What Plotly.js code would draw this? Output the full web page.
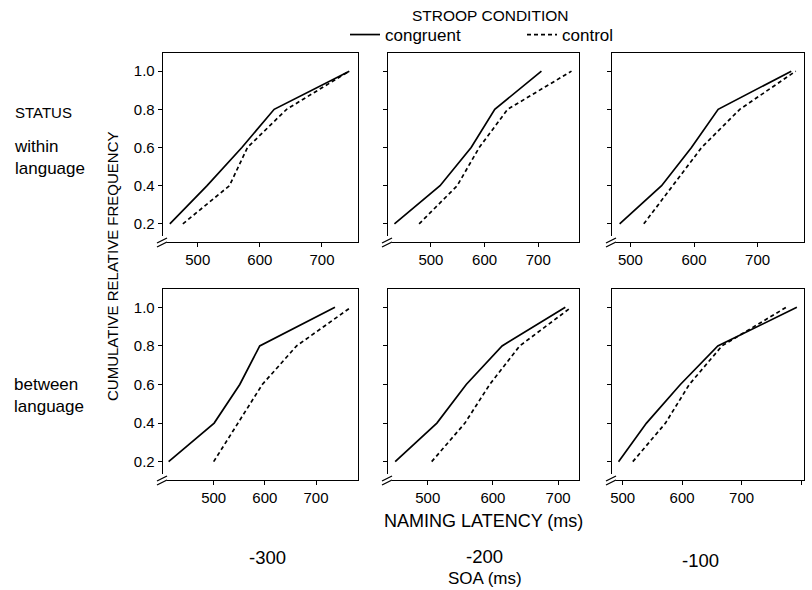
<!DOCTYPE html>
<html><head><meta charset="utf-8">
<script src="https://cdn.plot.ly/plotly-3.0.1.min.js"></script>
<style>html,body{margin:0;padding:0;background:#fff}#chart{width:812px;height:590px}</style>
</head><body><div id="chart"></div>
<script>
// cumulative relative frequency levels (quintiles)
const quantiles = [0.2, 0.4, 0.6, 0.8, 1.0];
const yTickText = ['0.2', '0.4', '0.6', '0.8', '1.0'];
const soaLabels = ['-300', '-200', '-100'];
const statusLabels = ['within<br>language', 'between<br>language'];
const seriesNames = ['congruent', 'control'];

// naming latency (ms) at each quantile
const withinM300Congruent  = [455, 515, 571, 623, 744];
const withinM300Control    = [476, 551, 580, 643, 744];
const withinM200Congruent  = [432, 517, 575, 619, 706];
const withinM200Control    = [478, 549, 590, 643, 762];
const withinM100Congruent  = [483, 549, 596, 638, 753];
const withinM100Control    = [521, 567, 612, 672, 760];
const betweenM300Congruent = [412, 501, 551, 590, 737];
const betweenM300Control   = [500, 548, 595, 662, 768];
const betweenM200Congruent = [450, 514, 559, 614, 711];
const betweenM200Control   = [506, 557, 595, 641, 720];
const betweenM100Congruent = [493, 540, 597, 660, 793];
const betweenM100Control   = [517, 572, 612, 667, 775];

const xTicks = [500, 600, 700, 800];

const panels = [
  {cong: withinM300Congruent,  ctrl: withinM300Control,  xr: [444, 758], col: 0, row: 0},
  {cong: withinM200Congruent,  ctrl: withinM200Control,  xr: [420, 776], col: 1, row: 0},
  {cong: withinM100Congruent,  ctrl: withinM100Control,  xr: [471, 773], col: 2, row: 0},
  {cong: betweenM300Congruent, ctrl: betweenM300Control, xr: [401, 782], col: 0, row: 1},
  {cong: betweenM200Congruent, ctrl: betweenM200Control, xr: [439, 732], col: 1, row: 1},
  {cong: betweenM100Congruent, ctrl: betweenM100Control, xr: [482, 805], col: 2, row: 1}
];

const W = 812, H = 590;
const colPx = [[163, 358], [388, 579], [612, 804]];
const rowPx = [[53, 242], [289, 480]];
const FONT = 'Liberation Sans, Arial, Helvetica, sans-serif';

const traces = [];
const layout = {
  width: W, height: H,
  margin: {l: 0, r: 0, t: 0, b: 0},
  paper_bgcolor: '#fff', plot_bgcolor: '#fff',
  font: {family: FONT, color: '#000', size: 15},
  showlegend: true,
  legend: {
    orientation: 'h', x: 345 / W, xanchor: 'left', y: 1 - 17 / H, yanchor: 'top',
    font: {size: 17, family: FONT, color: '#000'}, bgcolor: 'rgba(0,0,0,0)',
    itemwidth: 30, entrywidth: 132, entrywidthmode: 'pixels', traceorder: 'normal'
  },
  shapes: [], annotations: []
};

panels.forEach((p, i) => {
  const n = i + 1;
  const xa = n === 1 ? 'x' : 'x' + n;
  const ya = n === 1 ? 'y' : 'y' + n;
  traces.push({
    type: 'scatter', mode: 'lines', x: p.cong, y: quantiles, xaxis: xa, yaxis: ya,
    name: seriesNames[0], showlegend: i === 0, legendgroup: 'c',
    line: {color: '#000', width: 1.7}
  });
  traces.push({
    type: 'scatter', mode: 'lines', x: p.ctrl, y: quantiles, xaxis: xa, yaxis: ya,
    name: seriesNames[1], showlegend: i === 0, legendgroup: 'd',
    line: {color: '#000', width: 1.7, dash: '4px,3px'}
  });
  const cx = colPx[p.col], ry = rowPx[p.row];
  layout['xaxis' + (n === 1 ? '' : n)] = {
    domain: [cx[0] / W, cx[1] / W], anchor: ya, range: p.xr, fixedrange: true,
    tickvals: xTicks, ticks: 'outside', ticklen: 4, tickwidth: 1, tickcolor: '#000',
    showline: true, mirror: true, linecolor: '#000', linewidth: 1.3,
    showgrid: false, zeroline: false, tickfont: {size: 15, color: '#000'}
  };
  layout['yaxis' + (n === 1 ? '' : n)] = {
    domain: [1 - ry[1] / H, 1 - ry[0] / H], anchor: xa, range: [0.105, 1.095], fixedrange: true,
    tickvals: quantiles, ticktext: yTickText, showticklabels: p.col === 0,
    ticks: 'outside', ticklen: 4, tickwidth: 1, tickcolor: '#000',
    showline: true, mirror: true, linecolor: '#000', linewidth: 1.3,
    showgrid: false, zeroline: false, tickfont: {size: 15, color: '#000'}
  };
  const xref = xa + ' domain', yref = ya + ' domain';
  // axis break at lower-left corner
  layout.shapes.push({
    type: 'rect', xref, yref, layer: 'above', xsizemode: 'pixel', ysizemode: 'pixel',
    xanchor: 0, yanchor: 0, x0: -3, x1: 4, y0: -3, y1: 6,
    fillcolor: '#fff', line: {width: 0}
  });
  [[-6, -5, 4, 0], [-6, -1, 4, 4]].forEach(s => {
    layout.shapes.push({
      type: 'line', xref, yref, layer: 'above', xsizemode: 'pixel', ysizemode: 'pixel',
      xanchor: 0, yanchor: 0, x0: s[0], y0: s[1], x1: s[2], y1: s[3],
      line: {color: '#000', width: 1.3}
    });
  });
});

function ann(text, xpx, ypx, size, opts) {
  layout.annotations.push(Object.assign({
    text, xref: 'paper', yref: 'paper', x: xpx / W, y: 1 - ypx / H,
    showarrow: false, xanchor: 'center', yanchor: 'middle',
    font: {size: size, family: FONT, color: '#000'}
  }, opts || {}));
}

ann('STROOP CONDITION', 490, 15, 15.5);
ann('STATUS', 13, 112, 15, {xanchor: 'left'});
ann(statusLabels[0], 12, 157, 17, {xanchor: 'left', align: 'left'});
ann(statusLabels[1], 12, 395, 17, {xanchor: 'left', align: 'left'});
ann('CUMULATIVE RELATIVE FREQUENCY', 112, 266, 15, {textangle: -90});
ann('NAMING LATENCY (ms)', 483, 521, 18);
ann(soaLabels[0], 267, 557, 18.5);
ann(soaLabels[1], 485, 556, 18.5);
ann(soaLabels[2], 700, 560, 18.5);
ann('SOA (ms)', 485, 578, 17);

Plotly.newPlot('chart', traces, layout, {staticPlot: true, displayModeBar: false});
</script>
</body></html>
